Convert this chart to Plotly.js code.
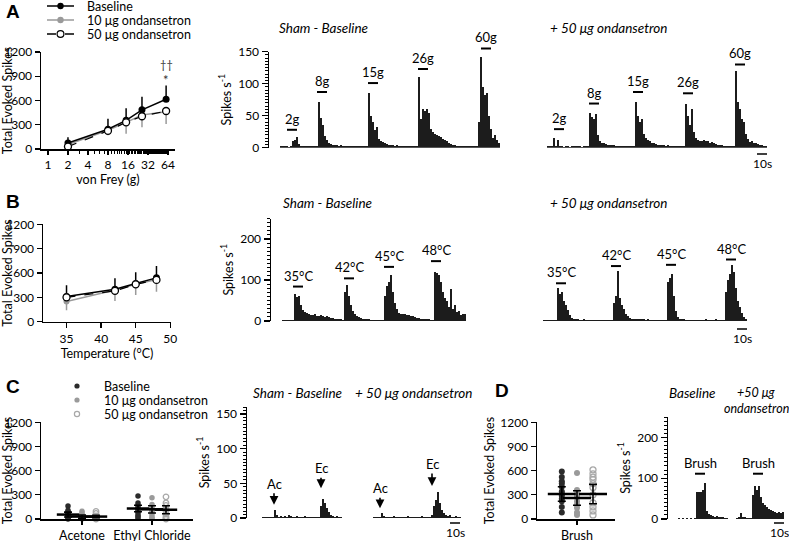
<!DOCTYPE html>
<html><head><meta charset="utf-8">
<script src="https://cdn.plot.ly/plotly-3.0.1.min.js"></script>
<style>html,body{margin:0;padding:0;background:#fff}</style>
</head><body><div id="chart" style="width:789px;height:541px"></div>
<script>
// ================= DATA =================
// Panel A: von Frey
const vonFreyForces = [2, 8, 15, 26, 60];
const vfBaseline = [75, 245, 355, 485, 615];
const vfBaselineErr = [70, 130, 150, 160, 170];
const vf10ug = [55, 230, 330, 420, 460];
const vf10ugErr = [20, 60, 140, 150, 150];
const vf50ug = [30, 225, 330, 405, 470];
const vfStimLabels = ['2g', '8g', '15g', '26g', '60g'];
const vfOnsetBase = [7, 37, 88, 138, 201];
const vfOnsetOnd = [7, 42, 86, 136, 188];
const vfLabelHBase = [28, 87, 101, 123, 155];
const vfLabelHOnd = [29, 69, 87, 85, 130];
// 2-s bins, spikes/s
const vfHistBase = [2,2,2,2,1,2,10,12,16,6,3,2,3,2,3,2,2,3,2,72,46,36,18,12,8,6,5,4,5,3,4,3,3,2,3,3,2,3,2,2,3,2,2,3,85,50,40,28,32,14,10,9,7,6,5,4,4,3,4,3,3,2,3,3,2,3,2,2,3,111,45,60,58,60,55,30,24,22,20,19,17,14,12,10,8,6,5,4,3,3,2,3,2,2,3,2,2,3,2,40,141,95,82,85,50,30,15,20,12,8];
const vfHistOnd = [2,3,2,15,3,12,2,2,1,2,2,1,2,2,3,2,2,1,2,2,2,55,48,45,52,20,10,8,7,6,5,5,4,4,3,3,2,3,2,2,2,3,2,2,72,50,40,45,22,15,12,10,8,7,6,5,5,4,4,3,4,3,3,3,2,3,2,2,2,69,50,35,60,25,15,12,10,11,12,10,11,8,9,7,6,5,4,4,3,3,2,3,2,2,120,72,60,45,40,22,13,9,10,8,7,6,5,4,3,2];

// Panel B: heat
const temperatures = [35, 42, 45, 48];
const thBaseline = [310, 400, 470, 540];
const thBaselineErr = [140, 135, 140, 145];
const th10ug = [250, 390, 460, 520];
const th10ugErr = [110, 135, 130, 150];
const th50ug = [300, 380, 460, 515];
const thStimLabels = ['35°C', '42°C', '45°C', '48°C'];
const thOnsetBase = [11, 62, 102, 149];
const thOnsetOnd = [13, 68, 123, 183];
const thLabelHBase = [84, 104, 132, 146];
const thLabelHOnd = [92, 134, 137, 150];
const thHistBase = [3,2,2,3,2,3,65,58,62,40,28,22,20,18,15,14,16,13,12,14,11,10,12,9,8,7,6,5,4,4,3,70,87,60,40,25,16,12,9,8,6,5,4,4,3,3,3,2,2,3,3,60,85,95,112,70,45,30,20,18,17,16,15,14,12,11,9,8,7,6,6,5,4,4,3,3,120,118,112,95,70,55,48,35,78,30,38,22,25,15,18,16];
const thHistOnd = [2,2,2,3,2,2,2,80,65,70,48,38,28,14,8,5,4,5,3,2,4,2,2,3,2,2,2,3,2,2,2,2,3,2,2,45,60,122,55,40,30,18,12,8,6,5,6,4,5,4,5,3,4,3,3,2,2,3,2,2,2,2,95,105,114,60,25,10,6,5,4,3,3,2,2,3,2,2,3,2,2,4,2,2,3,2,4,3,2,2,3,70,100,115,137,120,80,50,35,20,10,5];

// Panel C: cold
const coldCategories = ['Acetone', 'Ethyl Chloride'];
const coldBaselinePts = [[160,110,90,70,50,40,25,10,0],[285,200,170,140,120,100,80,50,30,10]];
const cold10ugPts = [[95,70,50,30,20,10,5,0],[265,180,150,120,100,80,50,20,5]];
const cold50ugPts = [[95,70,40,20,10,5,0],[275,200,170,130,100,60,30,10,0]];
const coldBaselineMean = [55, 130];
const coldBaselineSem = [30, 40];
const cold10ugMean = [30, 120];
const cold10ugSem = [20, 45];
const cold50ugMean = [30, 115];
const cold50ugSem = [15, 50];
const coldStimLabels = ['Ac', 'Ec'];
const coldPeakXBase = [12, 59];
const coldPeakYBase = [19, 43];
const coldPeakXOnd = [7, 59];
const coldPeakYOnd = [14, 46];
const coldHistBase = [2,2,1,2,2,2,12,5,2,3,2,3,2,4,3,2,2,3,2,2,2,3,2,2,2,2,2,2,2,18,27,22,14,8,5,3,2,3,2,2];
const coldHistOnd = [2,2,1,2,7,3,2,2,1,2,3,2,2,1,2,2,2,3,2,2,2,1,2,2,3,2,2,2,2,5,18,26,38,22,12,7,5,3,5,2,2,3,2,2];

// Panel D: brush
const brushCategories = ['Brush'];
const brushBaselinePts = [[590,520,470,440,400,340,310,290,250,220,150,80]];
const brush10ugPts = [[570,360,310,280,220,180,140,80,50]];
const brush50ugPts = [[610,560,520,490,440,390,300,200,150,100,50]];
const brushBaselineMean = [310];
const brushBaselineSem = [90];
const brush10ugMean = [260];
const brush10ugSem = [90];
const brush50ugMean = [310];
const brush50ugSem = [120];
const brushStimLabels = ['Brush'];
const brushOnsetBase = [17];
const brushOnsetOnd = [17];
const brushLabelH = [111];
const brushHistBase = [2,1,2,0,2,1,2,0,2,65,66,65,70,88,20,12,10,8,6,8,5,6,4,3,2];
const brushHistOnd = [3,5,15,6,4,3,3,3,60,82,72,80,55,40,35,30,25,22,20,18,15,18,15,16];

// ================= LAYOUT HELPERS =================
const W = 789, H = 541;
const dx = (a, b) => [a / W, b / W];
const dy = (top, bottom) => [1 - bottom / H, 1 - top / H];
const FONT = 'Lato, "Open Sans", sans-serif';
const BIN = 2, STIM_DUR = 10;
const C_BASE = '#2b2b2b', C_10 = '#9a9a9a', C_50 = '#a8a8a8';

const traces = [], annotations = [], shapes = [];

const axLine = {showline:true, linewidth:1.5, linecolor:'black', showgrid:false, zeroline:false,
  ticks:'outside', ticklen:5, tickwidth:1.3, tickcolor:'black', tickfont:{size:12, color:'black'}};
const hidden = {visible:false, showgrid:false, zeroline:false};
function lineY(domain, anchor) {
  return Object.assign({}, axLine, {domain, anchor, range:[0, 1200], tickvals:[0, 300, 600, 900, 1200],
    title:{text:'Total Evoked Spikes', standoff:3, font:{size:12.5}}});
}
function histY(domain, range, dtick, minor, anchor) {
  return Object.assign({}, axLine, {domain, anchor, range, tickmode:'linear', tick0:0, dtick, ticklen:6,
    minor:{tickmode:'linear', tick0:0, dtick:minor, ticks:'outside', ticklen:3, tickwidth:1, tickcolor:'black', showgrid:false},
    title:{text:'Spikes s<sup>-1</sup>', standoff:4, font:{size:12.5}}});
}
function hiddenAx(domain, range, anchor) { return Object.assign({}, hidden, {domain, range, anchor}); }

const minorLog = [];
for (let v = 1; v <= 64; v++) minorLog.push(v);

const layout = {
  width: W, height: H, margin:{l:0, r:0, t:0, b:0}, paper_bgcolor:'white', plot_bgcolor:'white',
  showlegend:false, font:{family:FONT, size:12, color:'black'}, bargap:0, hovermode:false,
  // A
  xaxis: Object.assign({}, axLine, {domain:dx(41, 175), type:'log', range:[-0.105, 1.912], anchor:'y', ticklen:4,
    tickvals:[1, 2, 4, 8, 16, 32, 64], ticktext:['1','2','4','8','16','32','64'],
    minor:{tickvals:minorLog, ticks:'outside', ticklen:3, tickwidth:1, tickcolor:'black', showgrid:false},
    title:{text:'von Frey (g)', standoff:0, font:{size:12.5}}}),
  yaxis: lineY(dy(52, 149), 'x'),
  xaxis2: hiddenAx(dx(269, 500), [-11, 220], 'y2'),
  yaxis2: histY(dy(51.7, 147.7), [0, 150], 50, 5, 'x2'),
  xaxis3: hiddenAx(dx(547, 767), [0, 220], 'y3'),
  yaxis3: hiddenAx(dy(51.7, 147.7), [0, 150], 'x3'),
  // B
  xaxis4: Object.assign({}, axLine, {domain:dx(43, 171), range:[31.6, 50.1], anchor:'y4',
    tickvals:[35, 40, 45, 50], title:{text:'Temperature (°C)', standoff:3, font:{size:12.5}}}),
  yaxis4: lineY(dy(224.3, 321.7), 'x4'),
  xaxis5: hiddenAx(dx(271, 466), [-11, 184], 'y5'),
  yaxis5: histY(dy(218.5, 321), [0, 250], 100, 10, 'x5'),
  xaxis6: hiddenAx(dx(543, 747), [0, 204], 'y6'),
  yaxis6: hiddenAx(dy(218.5, 321), [0, 250], 'x6'),
  // C
  xaxis7: Object.assign({}, axLine, {domain:dx(41, 193), range:[0.414, 2.586], anchor:'y7', ticklen:4,
    tickvals:[1, 2], ticktext:coldCategories, tickfont:{size:12.5}}),
  yaxis7: lineY(dy(422.3, 519), 'x7'),
  xaxis8: hiddenAx(dx(247, 342), [-15, 80], 'y8'),
  yaxis8: histY(dy(407, 518), [0, 160], 50, 5, 'x8'),
  xaxis9: hiddenAx(dx(373, 461), [0, 88], 'y9'),
  yaxis9: hiddenAx(dy(407, 518), [0, 160], 'x9'),
  // D
  xaxis10: Object.assign({}, axLine, {domain:dx(537, 615), range:[0.5, 1.475], anchor:'y10', ticklen:4,
    tickvals:[1], ticktext:brushCategories, tickfont:{size:12.5}}),
  yaxis10: lineY(dy(422.3, 519), 'x10'),
  xaxis11: hiddenAx(dx(668, 728), [-10, 50], 'y11'),
  yaxis11: histY(dy(417, 519), [0, 250], 100, 10, 'x11'),
  xaxis12: hiddenAx(dx(736, 784), [0, 48], 'y12'),
  yaxis12: hiddenAx(dy(417, 519), [0, 250], 'x12'),
  annotations, shapes
};

// convert a y data value of a given y axis into paper fraction (for marks outside the axis range)
function yPaper(yref, v) {
  const ax = layout['yaxis' + yref.slice(1)];
  const [d0, d1] = ax.domain, [r0, r1] = ax.range;
  return d0 + (v - r0) / (r1 - r0) * (d1 - d0);
}

function lineChart(xs, base, baseErr, g10, g10Err, g50, xa, ya) {
  const zeros = xs.map(() => 0);
  traces.push({type:'scatter', mode:'lines+markers', x:xs, y:g10, xaxis:xa, yaxis:ya,
    line:{color:C_10, width:1.5}, marker:{color:C_10, size:6},
    error_y:{type:'data', symmetric:false, array:zeros, arrayminus:g10Err, width:0, thickness:1.5, color:C_10}});
  traces.push({type:'scatter', mode:'lines+markers', x:xs, y:base, xaxis:xa, yaxis:ya,
    line:{color:'black', width:1.5}, marker:{color:'black', size:7},
    error_y:{type:'data', symmetric:false, array:baseErr, arrayminus:zeros, width:0, thickness:1.5, color:'black'}});
  traces.push({type:'scatter', mode:'lines+markers', x:xs, y:g50, xaxis:xa, yaxis:ya,
    line:{color:'black', width:1.2, dash:'dash'}, marker:{color:'white', size:7, line:{color:'black', width:1.3}}});
}

function hist(values, xa, ya) {
  traces.push({type:'bar', x:values.map((_, i) => i * BIN + BIN / 2), y:values, width:BIN,
    marker:{color:'#1c1c1c', line:{width:0}}, xaxis:xa, yaxis:ya, hoverinfo:'skip'});
}

function stim(labels, onsets, heights, xa, ya) {
  labels.forEach((l, i) => {
    const yp = yPaper(ya, heights[i]);
    shapes.push({type:'line', xref:xa, yref:'paper', x0:onsets[i], x1:onsets[i] + STIM_DUR, y0:yp, y1:yp,
      line:{color:'black', width:2}});
    annotations.push({xref:xa, yref:'paper', x:onsets[i] + STIM_DUR / 2, y:yp, text:l,
      showarrow:false, yanchor:'bottom', yshift:1, font:{size:13, color:'black'}});
  });
}

function arrows(labels, xs, ys, ayList, xa, ya) {
  labels.forEach((l, i) => {
    annotations.push({xref:xa, yref:ya, x:xs[i], y:ys[i], text:l, showarrow:true,
      ax:0, ay:ayList[i], arrowhead:2, arrowsize:1.1, arrowwidth:1.6, arrowcolor:'black',
      font:{size:13, color:'black'}, standoff:0});
  });
}

function scaleBar(x0, yPx, xa) {
  const yp = 1 - yPx / H;
  shapes.push({type:'line', xref:xa, yref:'paper', x0:x0, x1:x0 + 10, y0:yp, y1:yp, line:{color:'black', width:1.5}});
  annotations.push({xref:xa, yref:'paper', x:x0 + 5, y:yp, text:'10s', showarrow:false,
    yanchor:'top', yshift:0, font:{size:12, color:'black'}});
}

function dotGroups(cats, groups, xa, ya, offsets, meanW, dotSize) {
  groups.forEach((g, gi) => {
    const xs = [], ys = [];
    g.pts.forEach((arr, ci) => arr.forEach(v => { xs.push(ci + 1 + offsets[gi]); ys.push(v); }));
    traces.push({type:'scatter', mode:'markers', x:xs, y:ys, xaxis:xa, yaxis:ya,
      marker:g.open ? {color:'rgba(0,0,0,0)', size:dotSize, line:{color:g.color, width:1.3}}
                    : {color:g.color, size:dotSize, line:{width:0}}, cliponaxis:false});
  });
  groups.forEach((g, gi) => {
    traces.push({type:'scatter', mode:'markers', x:cats.map((_, ci) => ci + 1 + offsets[gi]), y:g.mean,
      xaxis:xa, yaxis:ya, marker:{symbol:'line-ew', size:meanW, line:{color:'black', width:2.5}},
      error_y:{type:'data', array:g.sem, width:4, thickness:1.6, color:'black'}});
  });
}

// ================= TRACES =================
lineChart(vonFreyForces, vfBaseline, vfBaselineErr, vf10ug, vf10ugErr, vf50ug, 'x', 'y');
hist(vfHistBase, 'x2', 'y2'); stim(vfStimLabels, vfOnsetBase, vfLabelHBase, 'x2', 'y2');
hist(vfHistOnd, 'x3', 'y3'); stim(vfStimLabels, vfOnsetOnd, vfLabelHOnd, 'x3', 'y3');
scaleBar(210, 154, 'x3');

lineChart(temperatures, thBaseline, thBaselineErr, th10ug, th10ugErr, th50ug, 'x4', 'y4');
hist(thHistBase, 'x5', 'y5'); stim(thStimLabels, thOnsetBase, thLabelHBase, 'x5', 'y5');
hist(thHistOnd, 'x6', 'y6'); stim(thStimLabels, thOnsetOnd, thLabelHOnd, 'x6', 'y6');
scaleBar(194, 329, 'x6');

dotGroups(coldCategories, [
  {pts:coldBaselinePts, mean:coldBaselineMean, sem:coldBaselineSem, color:C_BASE},
  {pts:cold10ugPts, mean:cold10ugMean, sem:cold10ugSem, color:C_10},
  {pts:cold50ugPts, mean:cold50ugMean, sem:cold50ugSem, color:C_50, open:true}
], 'x7', 'y7', [-0.2, 0, 0.2], 16, 5.5);
hist(coldHistBase, 'x8', 'y8'); arrows(coldStimLabels, coldPeakXBase, coldPeakYBase, [-21, -20], 'x8', 'y8');
hist(coldHistOnd, 'x9', 'y9'); arrows(coldStimLabels, coldPeakXOnd, coldPeakYOnd, [-20, -22], 'x9', 'y9');
scaleBar(77, 523, 'x9');

dotGroups(brushCategories, [
  {pts:brushBaselinePts, mean:brushBaselineMean, sem:brushBaselineSem, color:C_BASE},
  {pts:brush10ugPts, mean:brush10ugMean, sem:brush10ugSem, color:C_10},
  {pts:brush50ugPts, mean:brush50ugMean, sem:brush50ugSem, color:C_50, open:true}
], 'x10', 'y10', [-0.19, 0, 0.2], 20, 6);
hist(brushHistBase, 'x11', 'y11'); stim(brushStimLabels, brushOnsetBase, brushLabelH, 'x11', 'y11');
hist(brushHistOnd, 'x12', 'y12'); stim(brushStimLabels, brushOnsetOnd, brushLabelH, 'x12', 'y12');
scaleBar(38, 523, 'x12');

// significance marks
annotations.push({xref:'x', yref:'y', x:Math.log10(60), y:1040, text:'††', showarrow:false, font:{size:11, color:'#333'}});
annotations.push({xref:'x', yref:'y', x:Math.log10(60), y:850, text:'*', showarrow:false, font:{size:13, color:'#333'}});

// panel letters
const paperText = (x, y, text, font, anchor) => annotations.push({xref:'paper', yref:'paper', x:x / W, y:1 - y / H,
  text, showarrow:false, xanchor:anchor || 'left', yanchor:'middle', font});
const letterFont = {family:'Arial, "Liberation Sans", sans-serif', size:19, color:'black'};
paperText(4, 11, '<b>A</b>', letterFont);
paperText(4, 201, '<b>B</b>', letterFont);
paperText(4, 386, '<b>C</b>', letterFont);
paperText(493, 390, '<b>D</b>', letterFont);

// histogram titles
const tFont = {size:13.5, color:'black'};
paperText(277, 28, '<i>Sham - Baseline</i>', tFont);
paperText(548, 28, '<i>+ 50 μg ondansetron</i>', tFont);
paperText(281, 203, '<i>Sham - Baseline</i>', tFont);
paperText(548, 203, '<i>+ 50 μg ondansetron</i>', tFont);
paperText(297, 393, '<i>Sham - Baseline</i>', tFont, 'center');
paperText(413, 393, '<i>+ 50 μg ondansetron</i>', tFont, 'center');
paperText(692, 393, '<i>Baseline</i>', tFont, 'center');
paperText(756, 392, '<i>+50 μg</i>', {size:12.5, color:'black'}, 'center');
paperText(756, 408, '<i>ondansetron</i>', {size:12.5, color:'black'}, 'center');

// legends (drawn manually)
const legNames = ['Baseline', '10 μg ondansetron', '50 μg ondansetron'];
const legRowsA = [6, 20, 34];
const legRowsC = [386, 400, 414];
const circle = (cx, cy, r, fill, stroke) => shapes.push({type:'circle', xref:'paper', yref:'paper',
  x0:(cx - r) / W, x1:(cx + r) / W, y0:1 - (cy + r) / H, y1:1 - (cy - r) / H,
  fillcolor:fill, line:{color:stroke, width:stroke === fill ? 0 : 1.2}});
const hline = (x0, x1, y, color, dash) => shapes.push({type:'line', xref:'paper', yref:'paper',
  x0:x0 / W, x1:x1 / W, y0:1 - y / H, y1:1 - y / H, line:{color, width:1.5, dash:dash || 'solid'}});
hline(47, 74, legRowsA[0], 'black'); circle(60.5, legRowsA[0], 3.2, 'black', 'black');
hline(47, 74, legRowsA[1], C_10); circle(60.5, legRowsA[1], 3.2, C_10, C_10);
hline(47, 74, legRowsA[2], 'black', 'dash'); circle(60.5, legRowsA[2], 3.4, 'white', 'black');
legNames.forEach((n, i) => paperText(85, legRowsA[i], n, {size:12.5, color:'black'}));
circle(77, legRowsC[0], 2.6, C_BASE, C_BASE);
circle(77, legRowsC[1], 2.6, C_10, C_10);
circle(77, legRowsC[2], 2.6, 'white', C_50);
legNames.forEach((n, i) => paperText(102, legRowsC[i], n, {size:12.5, color:'black'}));

Plotly.newPlot('chart', traces, layout, {staticPlot:true, displayModeBar:false});
</script>
</body></html>
